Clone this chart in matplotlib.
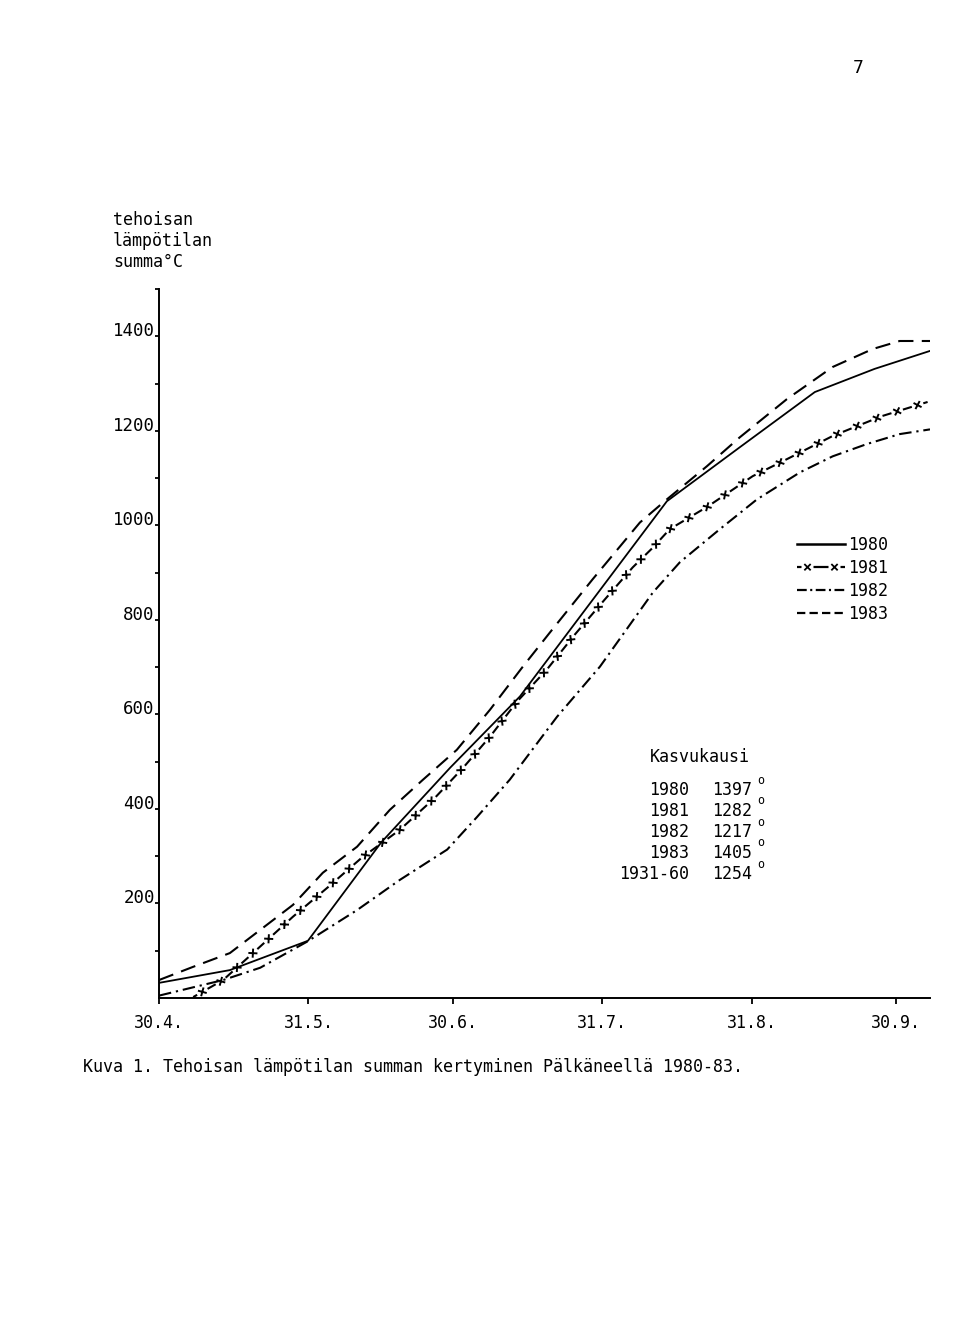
import numpy as np
import matplotlib
matplotlib.use('Agg')
import matplotlib.pyplot as plt
from matplotlib.lines import Line2D
from matplotlib import patheffects as pe

# ---- data: days after 30.4. and accumulated effective temperature sum (°C)
days_1980 = [0, 14.7, 30.9, 46.1, 60.4, 74.9, 105.4, 120.5, 136.1, 148.5, 160]
sum_1980 = [32, 59, 121, 329, 487, 638, 1051, 1165, 1282, 1331, 1369]

days_1981 = [7.1, 13.3, 19.5, 27.8, 34.9, 42.1, 50, 57.3, 63.1, 68.7, 74.3, 80.5,
             86.3, 92.5, 98.3, 102.5, 106, 113.9, 123.2, 130.3, 139.8, 150, 159.5]
sum_1981 = [2, 38, 95, 172, 233, 297, 356, 424, 487, 553, 627, 695,
            769, 843, 911, 953, 992, 1040, 1104, 1140, 1189, 1231, 1261]

days_1982 = [0, 13.3, 21, 30.7, 41.1, 50, 59.8, 66, 72.8, 82.6, 91.5, 102.5,
             108.1, 116.4, 124.1, 133, 139.8, 146.9, 153.7, 160]
sum_1982 = [5, 38, 64, 119, 186, 250, 314, 383, 462, 595, 701, 858,
            922, 992, 1055, 1112, 1146, 1172, 1193, 1203]

days_1983 = [0, 7.1, 14.7, 21, 27.8, 34, 41.1, 47.9, 54.8, 61.8, 68.7, 75.5,
             81.1, 90, 99.8, 105.4, 113.7, 120.5, 130.3, 139.8, 148.1, 153.7, 160]
sum_1983 = [38, 66, 95, 144, 197, 265, 320, 398, 462, 525, 610, 701,
            773, 886, 1006, 1055, 1125, 1186, 1267, 1335, 1373, 1390, 1390]

x_tick_days = [0, 31, 61, 92, 123, 153]
x_tick_labels = ['30.4.', '31.5.', '30.6.', '31.7.', '31.8.', '30.9.']
y_major = [200, 400, 600, 800, 1000, 1200, 1400]
y_minor = [100, 300, 500, 700, 900, 1100, 1300, 1500]

legend_labels = ['1980', '1981', '1982', '1983']
table_years = ['1980', '1981', '1982', '1983', '1931-60']
table_sums = ['1397', '1282', '1217', '1405', '1254']

ylabel_lines = ['tehoisan', 'lämpötilan', 'summa°C']
caption = 'Kuva 1. Tehoisan lämpötilan summan kertyminen Pälkäneellä 1980-83.'

# ---- figure
plt.rcParams['font.family'] = ['DejaVu Sans Mono', 'DejaVu Sans']
plt.rcParams['lines.scale_dashes'] = False
W, H = 960, 1317
fig = plt.figure(figsize=(W / 100, H / 100), dpi=100)
ax = fig.add_axes([159 / W, 1 - 998 / H, (930 - 159) / W, (998 - 289) / H])
ax.set_xlim(0, 160)
ax.set_ylim(0, 1500)
for s in ['top', 'right']:
    ax.spines[s].set_visible(False)
for s in ['left', 'bottom']:
    ax.spines[s].set_linewidth(1.4)

ax.set_xticks(x_tick_days, x_tick_labels)
ax.set_yticks(y_major, [str(v) for v in y_major])
ax.set_yticks(y_minor, minor=True)
ax.tick_params(axis='x', direction='out', length=4.5, width=1.3, pad=7, labelsize=12)
ax.tick_params(axis='y', which='both', direction='out', length=3, width=1.3, pad=0,
               labelsize=12.5)
for lab in ax.get_yticklabels():
    lab.set_verticalalignment('baseline')

lc = 'black'
ax.plot(days_1980, sum_1980, color=lc, lw=1.3)
ax.plot(days_1983, sum_1983, color=lc, lw=1.5, linestyle=(0, (11, 6)))
ax.plot(days_1982, sum_1982, color=lc, lw=1.5, linestyle=(0, (9, 3.5, 1.6, 3.5)))

# 1981: dashes with x marks in the gaps
px2pt = 72 / fig.dpi
sp_px = 21.0
gap_px = 12.0
x_effects = [pe.TickedStroke(spacing=sp_px * px2pt, angle=a, length=0.17)
             for a in (45, 135, -45, -135)]


def aligned_dash(L):
    num = int(np.ceil(L / sp_px)) - 1
    actual = (L - sp_px) / max(num - 1, 1)
    on = actual - gap_px
    off = (on + gap_px / 2 - sp_px / 2) % actual
    return (off * px2pt, (on * px2pt, gap_px * px2pt))


pts = ax.transData.transform(np.column_stack([days_1981, sum_1981]))
L81 = np.hypot(*np.diff(pts, axis=0).T).sum()
ax.plot(days_1981, sum_1981, color=lc, lw=1.5, linestyle=aligned_dash(L81))
ax.plot(days_1981, sum_1981, color=lc, lw=1.4, path_effects=x_effects)

# ---- legend
fs = 12
hl_px = 48
h80 = Line2D([], [], color=lc, lw=1.8)
h81a = Line2D([], [], color=lc, lw=1.6, linestyle=aligned_dash(hl_px))
h81b = Line2D([], [], color=lc, lw=1.3, path_effects=x_effects)
h82 = Line2D([], [], color=lc, lw=1.6, linestyle=(0, (7, 2.5, 1.5, 2.5)))
h83 = Line2D([], [], color=lc, lw=1.6, linestyle=(0, (6, 3)))
fig.legend([h80, (h81a, h81b), h82, h83], legend_labels,
           loc='upper left', bbox_to_anchor=(797 / W, 1 - 536 / H),
           bbox_transform=fig.transFigure, frameon=False, borderpad=0,
           borderaxespad=0, handlelength=hl_px * px2pt / fs, handletextpad=0.2,
           labelspacing=0.3, fontsize=fs)

# ---- texts
for i, t in enumerate(ylabel_lines):
    fig.text(113 / W, 1 - (220 + 21 * i) / H, t, ha='left', va='center', fontsize=12)

fig.text(700 / W, 1 - 757 / H, 'Kasvukausi', ha='center', va='center', fontsize=12)
for i, (yr, sm) in enumerate(zip(table_years, table_sums)):
    yy = 790 + 21 * i
    fig.text(689 / W, 1 - yy / H, yr, ha='right', va='center', fontsize=12)
    fig.text(712 / W, 1 - yy / H, sm, ha='left', va='center', fontsize=12)
    fig.text(757 / W, 1 - (yy - 10) / H, 'o', ha='left', va='center', fontsize=8.5)

fig.text(83 / W, 1 - 1067 / H, caption, ha='left', va='center', fontsize=12)
fig.text(858 / W, 1 - 68 / H, '7', ha='center', va='center', fontsize=13)

fig.savefig('out.png', dpi=100)
